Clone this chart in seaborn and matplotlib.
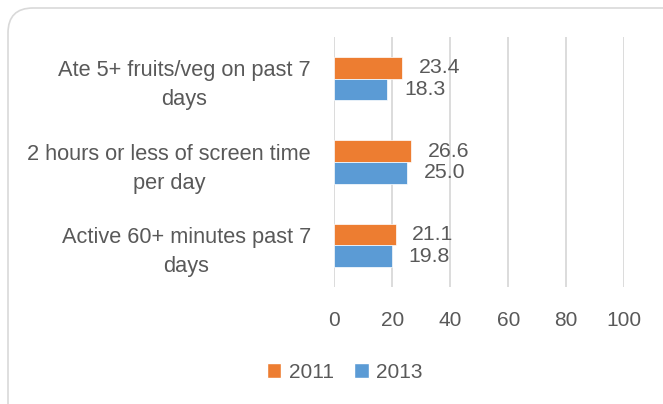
import numpy as np
import pandas as pd
import matplotlib
matplotlib.use("Agg")
import matplotlib.pyplot as plt
import seaborn as sns
from matplotlib.patches import FancyBboxPatch, Patch
from matplotlib.transforms import IdentityTransform

# chart data
categories = ["Ate 5+ fruits/veg on past 7\ndays",
              "2 hours or less of screen time\nper day",
              "Active 60+ minutes past 7\ndays"]
years = ["2011", "2013"]
values_2011 = [23.4, 26.6, 21.1]
values_2013 = [18.3, 25.0, 19.8]
x_ticks = [0, 20, 40, 60, 80, 100]

df = pd.DataFrame({
    "category": categories * 2,
    "year": [years[0]] * 3 + [years[1]] * 3,
    "value": values_2011 + values_2013,
})

sns.set_style("white")
plt.rcParams["font.family"] = ["Liberation Sans", "DejaVu Sans"]
text_color = "#595959"
palette = {"2011": "#ED7D31", "2013": "#5B9BD5"}
fs = 15

fig = plt.figure(figsize=(6.63, 4.04), dpi=100)
ax = fig.add_axes([0.5045, 0.2896, 0.4367, 0.6188])

sns.barplot(data=df, y="category", x="value", hue="year", orient="h",
            palette=palette, width=0.52, order=categories, hue_order=years,
            ax=ax, legend=False, saturation=1, edgecolor="white", linewidth=0.5)

for cont in ax.containers:
    ax.bar_label(cont, fmt="%.1f", padding=12, fontsize=15.3, color=text_color)

ax.set_xlim(0, 100)
ax.set_ylim(2.5, -0.5)
ax.set_xticks(x_ticks)
ax.xaxis.grid(True, color="#D9D9D9", linewidth=1.3)
ax.set_axisbelow(True)
for s in ax.spines.values():
    s.set_visible(False)
ax.set_xlabel("")
ax.set_ylabel("")
ax.tick_params(axis="x", length=0, pad=17, labelsize=fs, labelcolor=text_color)
ax.tick_params(axis="y", length=0, pad=17, labelsize=15.7, labelcolor=text_color)
for lbl in ax.get_yticklabels():
    lbl.set_multialignment("center")
    lbl.set_linespacing(1.5)

handles = [Patch(facecolor=palette[y], label=y) for y in years]
fig.legend(handles=handles, loc="center", bbox_to_anchor=(0.52, 0.079), ncol=2,
           frameon=False, fontsize=fs, labelcolor=text_color,
           handlelength=0.7, handleheight=0.7, handletextpad=0.35, columnspacing=1.0)

# rounded chart border (pixels), running off the right and bottom edges
border = FancyBboxPatch((8, -30), 700, 404 - 8 + 30, boxstyle="round,pad=0,rounding_size=25",
                        transform=IdentityTransform(), facecolor="none",
                        edgecolor="#D9D9D9", linewidth=1.2)
fig.patches.append(border)

fig.savefig("out.png", dpi=100)
